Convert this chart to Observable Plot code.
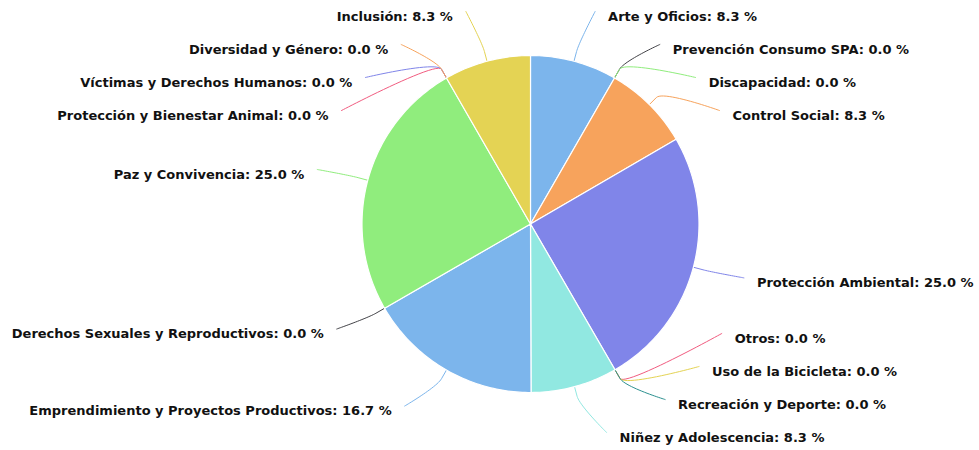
<!DOCTYPE html>
<html><head><meta charset="utf-8">
<script src="https://cdn.jsdelivr.net/npm/d3@7"></script>
<script src="https://cdn.jsdelivr.net/npm/@observablehq/plot@0.6"></script>
<style>body{margin:0;background:#fff}#chart{width:979px;height:450px}</style>
</head><body><div id="chart"></div>
<script>
// ---- data (clockwise from 12 o'clock) ----
const categories = ["Arte y Oficios","Prevención Consumo SPA","Discapacidad","Control Social","Protección Ambiental","Otros","Uso de la Bicicleta","Recreación y Deporte","Niñez y Adolescencia","Emprendimiento y Proyectos Productivos","Derechos Sexuales y Reproductivos","Paz y Convivencia","Protección y Bienestar Animal","Víctimas y Derechos Humanos","Diversidad y Género","Inclusión"];
const percentages = [8.3,0.0,0.0,8.3,25.0,0.0,0.0,0.0,8.3,16.7,0.0,25.0,0.0,0.0,0.0,8.3];
const sliceColors = ["#7cb5ec","#434348","#90ed7d","#f7a35c","#8085e9","#f15c80","#e4d354","#2b908f","#91e8e1","#7cb5ec","#434348","#90ed7d","#f15c80","#8085e9","#f7a35c","#e4d354"];

// ---- layout ----
const W = 979, H = 450, CX = 530, CY = 223.5, R = 168.5;
const LABEL_DIST = 41.5, BREAK = 10, TEXT_RING = 223, TEXT_PAD = 10, CONN_GAP = 13, SPACING = 33;
const MIN_Y = 11 - CY, MAX_Y = 432 - CY;

const arcs = d3.pie().sort(null).value(d => d)(percentages);
const points = categories.map((name, i) => {
  const a = arcs[i];
  const mid = (a.startAngle + a.endAngle) / 2;
  return {i, name, pct: percentages[i], color: sliceColors[i], a0: a.startAngle, a1: a.endAngle, mid,
    left: mid > Math.PI, natural: -(R + LABEL_DIST) * Math.cos(mid)};
});

function distribute(items) {
  let clusters = items.map(d => ({items: [d]}));
  const place = c => {
    const n = c.items.length;
    const mean = d3.mean(c.items, d => d.natural);
    c.top = Math.max(MIN_Y, Math.min(MAX_Y - (n - 1) * SPACING, mean - (n - 1) * SPACING / 2));
  };
  let changed = true;
  while (changed) {
    changed = false;
    clusters.forEach(place);
    for (let k = 0; k < clusters.length - 1; k++) {
      const a = clusters[k], b = clusters[k + 1];
      if (a.top + a.items.length * SPACING > b.top + 0.001) {
        clusters.splice(k, 2, {items: a.items.concat(b.items)});
        changed = true; break;
      }
    }
  }
  clusters.forEach(c => c.items.forEach((d, j) => d.labelY = c.top + j * SPACING));
}
const rightPts = points.filter(p => !p.left).sort((a, b) => (a.natural - b.natural) || (a.i - b.i));
const leftPts = points.filter(p => p.left).sort((a, b) => (a.natural - b.natural) || (b.i - a.i));
distribute(rightPts); distribute(leftPts);

points.forEach(p => {
  const s = p.left ? -1 : 1;
  p.textX = s * (Math.sqrt(Math.max(0, TEXT_RING * TEXT_RING - p.labelY * p.labelY)) + TEXT_PAD);
  p.textY = p.labelY + 5;
  p.label = `${p.name}: ${p.pct.toFixed(1)} %`;
});

// slice outlines
const sliceRows = points.filter(p => p.pct > 0).flatMap(p => {
  const n = Math.max(2, Math.ceil((p.a1 - p.a0) / (Math.PI / 180)));
  const rows = [{name: p.name, color: p.color, x: 0, y: 0}];
  for (let k = 0; k <= n; k++) {
    const a = p.a0 + (p.a1 - p.a0) * k / n;
    rows.push({name: p.name, color: p.color, x: R * Math.sin(a), y: -R * Math.cos(a)});
  }
  rows.push({name: p.name, color: p.color, x: 0, y: 0});
  return rows;
});

// soft connectors
const connRows = points.flatMap(p => {
  const s = p.left ? -1 : 1;
  const lx = p.textX - s * CONN_GAP, ly = p.labelY;
  const tx = R * Math.sin(p.mid), ty = -R * Math.cos(p.mid);
  const bx = (R + BREAK) * Math.sin(p.mid), by = -(R + BREAK) * Math.cos(p.mid);
  const c2x = 2 * bx - tx, c2y = 2 * by - ty;
  const rows = [];
  const N = 24;
  for (let k = 0; k <= N; k++) {
    const t = k / N, u = 1 - t;
    const x = u*u*u*lx + 3*u*u*t*lx + 3*u*t*t*c2x + t*t*t*bx;
    const y = u*u*u*ly + 3*u*u*t*ly + 3*u*t*t*c2y + t*t*t*by;
    rows.push({name: p.name, color: p.color, x, y});
  }
  rows.push({name: p.name, color: p.color, x: tx, y: ty});
  return rows;
});

const chart = Plot.plot({
  width: W, height: H, margin: 0,
  style: {background: "#fff"},
  x: {domain: [-CX, W - CX], range: [0, W], axis: null},
  y: {domain: [-CY, H - CY], range: [0, H], axis: null},
  color: {type: "identity"},
  marks: [
    Plot.line(connRows, {x: "x", y: "y", z: "name", stroke: "color", strokeWidth: 1, curve: "linear"}),
    Plot.line(sliceRows, {x: "x", y: "y", z: "name", fill: "color", stroke: "#ffffff", strokeWidth: 1.2, strokeLinejoin: "round", curve: "linear"}),
    Plot.text(points.filter(p => !p.left), {x: "textX", y: "textY", text: "label", textAnchor: "start", fontWeight: "bold", fontSize: 13, fontFamily: "DejaVu Sans", fill: "#111"}),
    Plot.text(points.filter(p => p.left), {x: "textX", y: "textY", text: "label", textAnchor: "end", fontWeight: "bold", fontSize: 13, fontFamily: "DejaVu Sans", fill: "#111"})
  ]
});
document.getElementById("chart").appendChild(chart);
</script>
</body></html>
